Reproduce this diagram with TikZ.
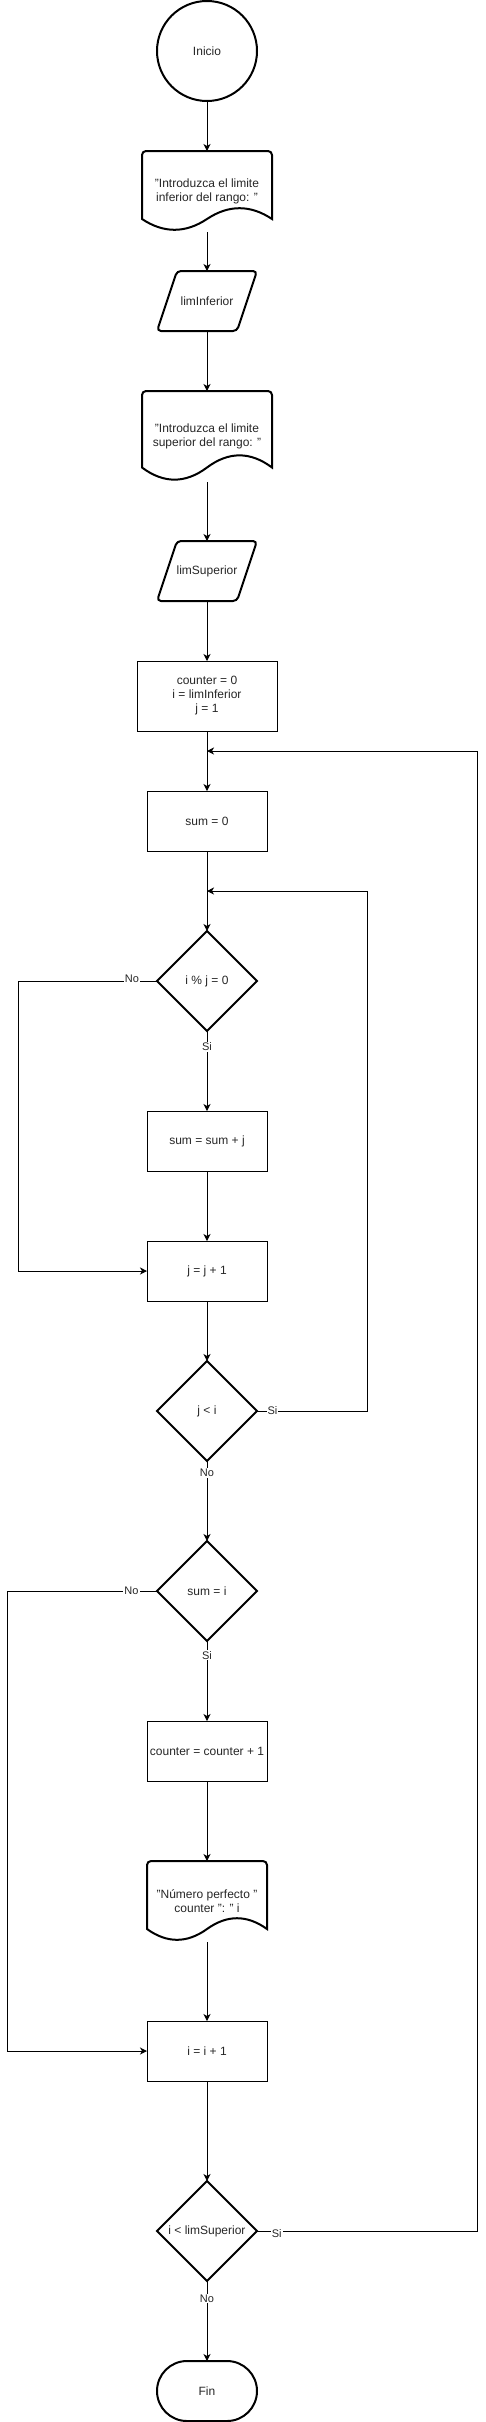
\documentclass[tikz,border=0pt]{standalone}
\usepackage{fontspec}
\setmainfont{Liberation Sans}
\usetikzlibrary{shapes.geometric,arrows.meta,calc}
\tikzset{
  base/.style={inner sep=0pt, outer sep=0pt, align=center, font=\fontsize{12}{14}\selectfont, text=black!85},
  procbox/.style={base, draw, line width=1pt, minimum width=120pt, minimum height=60pt},
  dec/.style={base, draw, diamond, aspect=1, line width=2pt, minimum width=100pt, minimum height=100pt},
  plain/.style={base},
  arr/.style={line width=1pt, -{Stealth[length=7pt,width=7pt,inset=2pt]}},
  shp/.style={line width=2pt},
  lbl/.style={fill=white, inner sep=1pt, font=\fontsize{11}{13}\selectfont, text=black!85},
}
% document shape: cx, top, w, h
\newcommand\mkdoc[4]{%
  \pgfmathsetmacro\dxl{#1-#3/2}\pgfmathsetmacro\dxr{#1+#3/2}%
  \pgfmathsetmacro\dya{#2}\pgfmathsetmacro\dyb{#2+0.85*#4}%
  \pgfmathsetmacro\dyc{#2+0.67*#4}\pgfmathsetmacro\dyd{#2+1.03*#4}%
  \pgfmathsetmacro\dxq{#1+#3/3}\pgfmathsetmacro\dxqq{#1+#3/6}%
  \pgfmathsetmacro\dxp{#1-#3/6}\pgfmathsetmacro\dxpp{#1-#3/3}%
  \draw[shp] (\dxl,\dyb) [rounded corners=4pt] -- (\dxl,\dya) -- (\dxr,\dya) [sharp corners] -- (\dxr,\dyb)
    .. controls (\dxq,\dyc) and (\dxqq,\dyc) .. (#1,\dyb) .. controls (\dxp,\dyd) and (\dxpp,\dyd) .. (\dxl,\dyb) -- cycle;
}
% parallelogram around a named node of size 100x60
\newcommand\mkpar[1]{%
  \draw[shp, rounded corners=4pt] (#1.south west) -- ($(#1.north west)+(20,0)$) -- (#1.north east) -- ($(#1.south east)-(20,0)$) -- cycle;
}
\begin{document}
\begin{tikzpicture}[x=1pt,y=-1pt]
\useasboundingbox (0,0) rectangle (486,2422);

\node[base, draw, circle, line width=2pt, minimum size=100pt] (inicio) at (207,51) {Inicio};

\mkdoc{207}{151}{130}{80}
\node[plain, minimum width=130pt, minimum height=80pt] (doc1) at (207,191) {"Introduzca el limite\\inferior del rango: "};

\node[plain, minimum width=100pt, minimum height=60pt] (in1) at (207,301) {limInferior};
\mkpar{in1}

\mkdoc{207}{391}{130}{90}
\node[plain, minimum width=130pt, minimum height=90pt] (doc2) at (207,436) {"Introduzca el limite\\superior del rango: "};

\node[plain, minimum width=100pt, minimum height=60pt] (in2) at (207,571) {limSuperior};
\mkpar{in2}

\node[procbox, minimum width=140pt, minimum height=70pt] (init) at (207,696) {counter = 0\\i = limInferior\\j = 1};

\node[procbox] (sum0) at (207,821) {sum = 0};

\node[dec] (d1) at (207,981) {i \% j = 0};

\node[procbox] (sumj) at (207,1141) {sum = sum + j};

\node[procbox] (jinc) at (207,1271) {j = j + 1};

\node[dec] (d2) at (207,1411) {j {\textless} i};

\node[dec] (d3) at (207,1591) {sum = i};

\node[procbox] (cinc) at (207,1751) {counter = counter + 1};

\mkdoc{207}{1861}{120}{80}
\node[plain, minimum width=120pt, minimum height=80pt] (doc3) at (207,1901) {"Número perfecto "\\counter ": " i};

\node[procbox] (iinc) at (207,2051) {i = i + 1};

\node[dec] (d4) at (207,2231) {i {\textless} limSuperior};

\node[base, draw, line width=2pt, minimum width=100pt, minimum height=60pt, rounded corners=30pt] (fin) at (207,2391) {Fin};

\coordinate (j1) at (207,751);
\coordinate (j2) at (207,891);

% main flow
\draw[arr] (inicio) -- (doc1);
\draw[arr] (207,232) -- (in1.north);
\draw[arr] (in1) -- (207,391);
\draw[arr] (207,482) -- (in2.north);
\draw[arr] (in2) -- (init);
\draw[arr] (init) -- (sum0);
\draw[arr] (sum0) -- (d1);
\draw[arr] (d1) -- node[lbl, pos=0.2] {Si} (sumj);
\draw[arr] (sumj) -- (jinc);
\draw[arr] (jinc) -- (d2);
\draw[arr] (d2) -- node[lbl, pos=0.15] {No} (d3);
\draw[arr] (d3) -- node[lbl, pos=0.18] {Si} (cinc);
\draw[arr] (cinc) -- (207,1861);
\draw[arr] (207,1942) -- (iinc.north);
\draw[arr] (iinc) -- (d4);
\draw[arr] (d4) -- node[lbl, pos=0.22] {No} (fin);

% loops
\draw[arr] (d1.west) -- node[lbl, pos=0.18, yshift=2pt] {No} (18,981) -- (18,1271) -- (jinc.west);
\draw[arr] (d2.east) -- node[lbl, pos=0.14] {Si} (367,1411) -- (367,891) -- (j2);
\draw[arr] (d3.west) -- node[lbl, pos=0.17] {No} (7,1591) -- (7,2051) -- (iinc.west);
\draw[arr] (d4.east) -- node[lbl, pos=0.09, yshift=-3pt] {Si} (477,2231) -- (477,751) -- (j1);
\end{tikzpicture}
\end{document}
